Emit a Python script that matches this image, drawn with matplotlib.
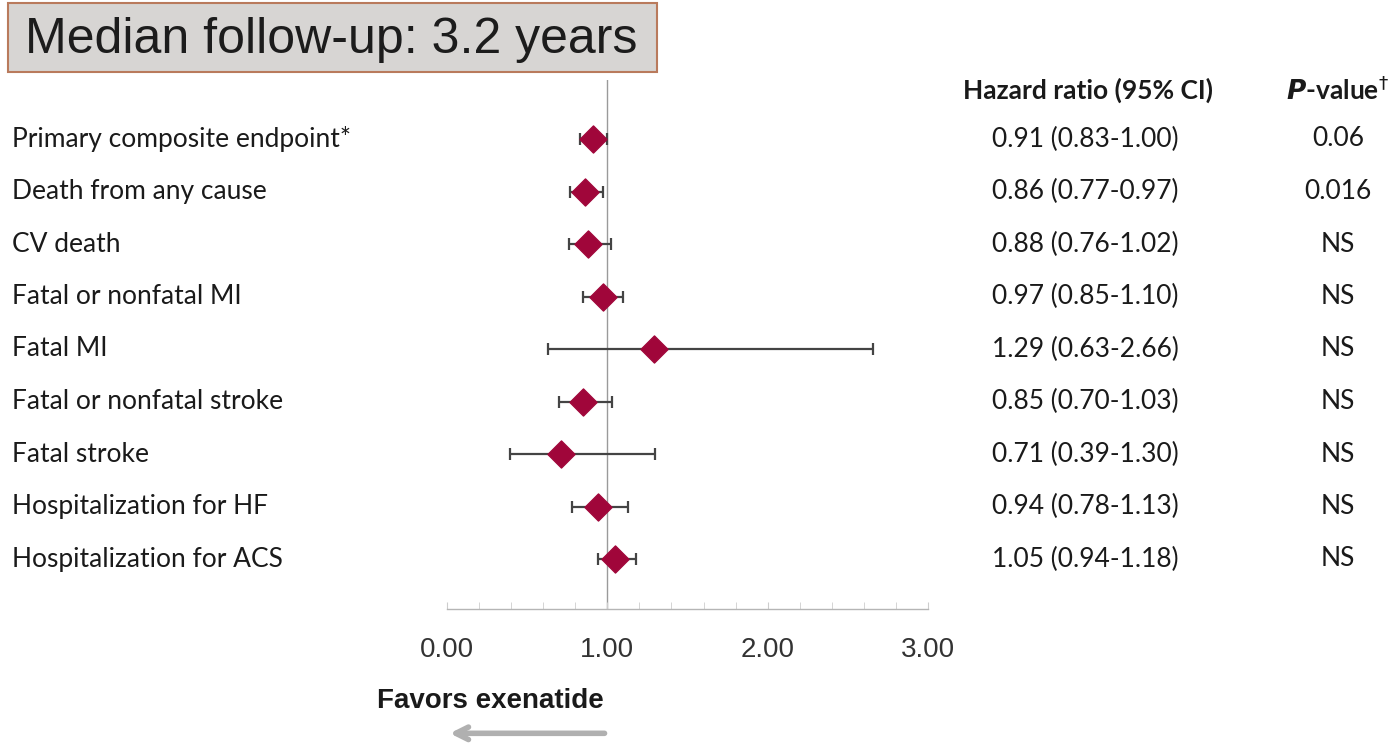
import matplotlib
matplotlib.use("Agg")
import matplotlib.pyplot as plt
from matplotlib.patches import Rectangle
from matplotlib.transforms import blended_transform_factory

# Endpoints, hazard ratios and 95% CI bounds
endpoints = [
    "Primary composite endpoint*",
    "Death from any cause",
    "CV death",
    "Fatal or nonfatal MI",
    "Fatal MI",
    "Fatal or nonfatal stroke",
    "Fatal stroke",
    "Hospitalization for HF",
    "Hospitalization for ACS",
]
hr = [0.91, 0.86, 0.88, 0.97, 1.29, 0.85, 0.71, 0.94, 1.05]
ci_low = [0.83, 0.77, 0.76, 0.85, 0.63, 0.70, 0.39, 0.78, 0.94]
ci_high = [1.00, 0.97, 1.02, 1.10, 2.66, 1.03, 1.30, 1.13, 1.18]
p_values = ["0.06", "0.016", "NS", "NS", "NS", "NS", "NS", "NS", "NS"]
x_ticks = [0.0, 1.0, 2.0, 3.0]

W, H = 1397, 747
DPI = 100
MARKER_COLOR = "#a0063a"
BAR_COLOR = "#444444"
TEXT_COLOR = "#1a1a1a"
LABEL_FONT = ["Lato", "DejaVu Sans"]
ARIAL = ["Liberation Sans", "DejaVu Sans"]
LABEL_SIZE = 19


def px_x(x):
    return x / W


def px_y(y):
    return 1 - y / H


fig = plt.figure(figsize=(W / DPI, H / DPI), dpi=DPI)

# forest axes: x=0 at 447 px, x=3 at 928 px; rows from y=139 px, 52.5 px apart
ax_left, ax_right = 447, 928
ax_top, ax_bottom = 80, 609
ax = fig.add_axes([px_x(ax_left), px_y(ax_bottom),
                   (ax_right - ax_left) / W, (ax_bottom - ax_top) / H])
row_top, row_step = 139, 52.5
ax.set_xlim(0, 3)
ax.set_ylim((ax_bottom - row_top) / row_step, (ax_top - row_top) / row_step)

rows = list(range(len(endpoints)))
ax.axvline(1.0, color="#9a9a9a", lw=1.0, zorder=1)
ax.errorbar(hr, rows,
            xerr=[[h - l for h, l in zip(hr, ci_low)],
                  [u - h for h, u in zip(hr, ci_high)]],
            fmt="none", ecolor=BAR_COLOR, elinewidth=1.6, capsize=4,
            capthick=1.6, zorder=2)
ax.scatter(hr, rows, marker="D", s=190, color=MARKER_COLOR,
           edgecolor=MARKER_COLOR, zorder=3)

for s in ["top", "right", "left"]:
    ax.spines[s].set_visible(False)
ax.spines["bottom"].set_color("#b5b5b5")
ax.spines["bottom"].set_linewidth(1.0)
ax.set_yticks([])
ax.set_xticks(x_ticks)
ax.set_xticklabels([f"{t:.2f}" for t in x_ticks], fontfamily=ARIAL,
                   fontsize=20, color="#333333")
ax.set_xticks([i * 0.2 for i in range(16)], minor=True)
ax.tick_params(axis="x", which="both", direction="in", length=5,
               color="#cdcdcd", pad=20)

# row labels and table columns
tr = blended_transform_factory(fig.transFigure, ax.transData)
for i, name in enumerate(endpoints):
    ax.text(px_x(12), i, name, transform=tr, ha="left", va="center",
            fontsize=LABEL_SIZE, fontfamily=LABEL_FONT, color=TEXT_COLOR)
    ax.text(px_x(1085), i, f"{hr[i]:.2f} ({ci_low[i]:.2f}-{ci_high[i]:.2f})",
            transform=tr, ha="center", va="center", fontsize=LABEL_SIZE,
            fontfamily=LABEL_FONT, color=TEXT_COLOR)
    ax.text(px_x(1338), i, p_values[i], transform=tr, ha="center",
            va="center", fontsize=LABEL_SIZE, fontfamily=LABEL_FONT,
            color=TEXT_COLOR)

fig.text(px_x(1088), px_y(90), "Hazard ratio (95% CI)", ha="center",
         va="center", fontsize=LABEL_SIZE, fontweight="bold",
         fontfamily=LABEL_FONT, color=TEXT_COLOR)
fig.text(px_x(1338), px_y(90), r"$\bfit{P}$" + "-value" + r"$^{\dagger}$",
         ha="center", va="center", fontsize=LABEL_SIZE, fontweight="bold",
         fontfamily=LABEL_FONT, color=TEXT_COLOR)

# title box
fig.patches.append(Rectangle((px_x(8), px_y(72)), 649 / W, 69 / H,
                             transform=fig.transFigure, facecolor="#d7d5d3",
                             edgecolor="#b97a5c", lw=1.5))
fig.text(px_x(25), px_y(40), "Median follow-up: 3.2 years", ha="left",
         va="center", fontsize=36, fontfamily=ARIAL, color="#1c1c1c")

# direction label and arrow
fig.text(px_x(490), px_y(701), "Favors exenatide", ha="center", va="center",
         fontsize=20, fontweight="bold", fontfamily=ARIAL, color=TEXT_COLOR)
ax.annotate("", xy=(0.0, -0.235), xytext=(1.0, -0.235),
            xycoords=("data", "axes fraction"),
            textcoords=("data", "axes fraction"),
            arrowprops=dict(arrowstyle="->,head_length=0.9,head_width=0.45",
                            color="#b0b0b0", lw=4), annotation_clip=False)

fig.savefig("out.png", dpi=DPI)
